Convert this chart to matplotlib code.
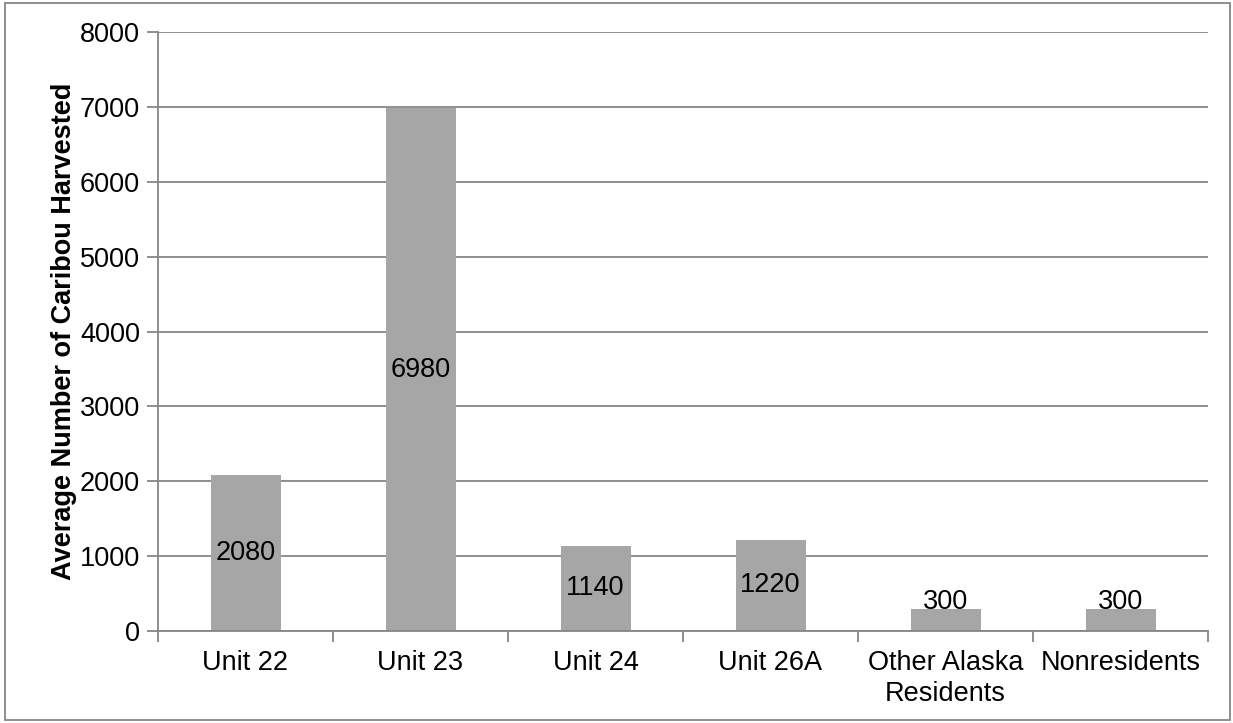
import numpy as np
import matplotlib.pyplot as plt
from matplotlib.patches import Rectangle

categories = ["Unit 22", "Unit 23", "Unit 24", "Unit 26A", "Other Alaska\nResidents", "Nonresidents"]
harvest = [2080, 6980, 1140, 1220, 300, 300]

plt.rcParams['font.family'] = ['Liberation Sans', 'DejaVu Sans']
plt.rcParams['font.size'] = 19.5

fig = plt.figure(figsize=(12.33, 7.23), dpi=100)
ax = fig.add_axes([158/1233, 1 - 631/723, 1050/1233, 599/723])

grey = '#868686'
x = np.arange(len(categories))
ax.bar(x, harvest, width=0.4, color='#A6A6A6', zorder=2)

# value labels: middle of the bar, or just above it when the bar is short
for xi, v in zip(x, harvest):
    if v < 600:
        ax.annotate(str(v), (xi, v), xytext=(0, 5), textcoords='offset points',
                    ha='center', va='center', zorder=3)
    else:
        ax.text(xi, v / 2, str(v), ha='center', va='center', zorder=3)

ax.set_xlim(-0.5, len(categories) - 0.5)
ax.set_ylim(0, 8000)
ax.set_yticks(np.arange(0, 8001, 1000))
ax.yaxis.grid(True, color=grey, linewidth=1.3, zorder=0)
ax.set_axisbelow(True)

ax.set_xticks(x)
ax.set_xticklabels(categories, linespacing=1.25)
ax.set_xticks(np.arange(-0.5, len(categories)), minor=True)
ax.tick_params(axis='x', which='major', length=0, pad=14)
ax.tick_params(axis='x', which='minor', length=8, color=grey, width=1.3)
ax.tick_params(axis='y', length=8, color=grey, width=1.3, pad=5)

for side in ['top', 'right']:
    ax.spines[side].set_visible(False)
for side in ['left', 'bottom']:
    ax.spines[side].set_color(grey)
    ax.spines[side].set_linewidth(1.3)

ax.set_ylabel('Average Number of Caribou Harvested', fontweight='bold', labelpad=2)

fig.patches.append(Rectangle((5/1233, 3/723), 1225/1233, 717/723, transform=fig.transFigure,
                             fill=False, edgecolor=grey, linewidth=1.3))

plt.savefig('out.png', dpi=100)
